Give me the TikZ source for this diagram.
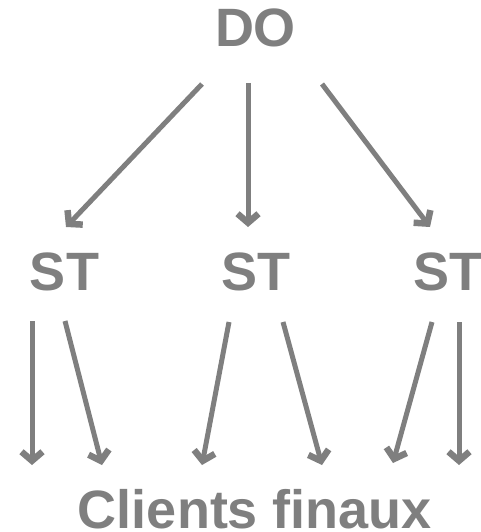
\documentclass[tikz,border=0pt]{standalone}
\usepackage{fontspec}
\setmainfont{Liberation Sans}
\usetikzlibrary{arrows.meta, positioning}
\definecolor{labelgray}{HTML}{7F7F7F}
\tikzset{
	level/.style={text=labelgray, font=\fontsize{54}{60}\selectfont\bfseries, inner sep=0pt, text depth=0pt, anchor=base},
	flow/.style={draw=labelgray, line width=5pt, -{Straight Barb[length=9pt,width=21pt,line width=6.5pt]}},
}

\begin{document}
\begin{tikzpicture}[x=1pt, y=-1pt]
	\useasboundingbox (0,0) rectangle (481,532);
	\node[level] (DO) at (255.5,47) {DO};
	\node[level] (ST1) at (64.5,290) {ST};
	\node[level] (ST2) at (255.5,290) {ST};
	\node[level] (ST3) at (447.5,290) {ST};
	\node[level] (CLIENTS) at (255,528) {Clients finaux};
	
	% arrow ends
	\coordinate (DOl) at (202,84);
	\coordinate (DOm) at (248,83);
	\coordinate (DOr) at (322,84);
	\coordinate (in1) at (66,227);
	\coordinate (in2) at (248,227);
	\coordinate (in3) at (430,227);
	\coordinate (out1a) at (32,321);
	\coordinate (out1b) at (65,321);
	\coordinate (out2a) at (229,322);
	\coordinate (out2b) at (283,322);
	\coordinate (out3a) at (432,322);
	\coordinate (out3b) at (459,322);
	\coordinate (cl1) at (32,465);
	\coordinate (cl2) at (102,465);
	\coordinate (cl3) at (202,465);
	\coordinate (cl4) at (322,465);
	\coordinate (cl5) at (393,463);
	\coordinate (cl6) at (459,465);
	
	\draw[flow] (DOl) -- (in1);
	\draw[flow] (DOm) -- (in2);
	\draw[flow] (DOr) -- (in3);
	\draw[flow] (out1a) -- (cl1);
	\draw[flow] (out1b) -- (cl2);
	\draw[flow] (out2a) -- (cl3);
	\draw[flow] (out2b) -- (cl4);
	\draw[flow] (out3a) -- (cl5);
	\draw[flow] (out3b) -- (cl6);
\end{tikzpicture}
\end{document}
